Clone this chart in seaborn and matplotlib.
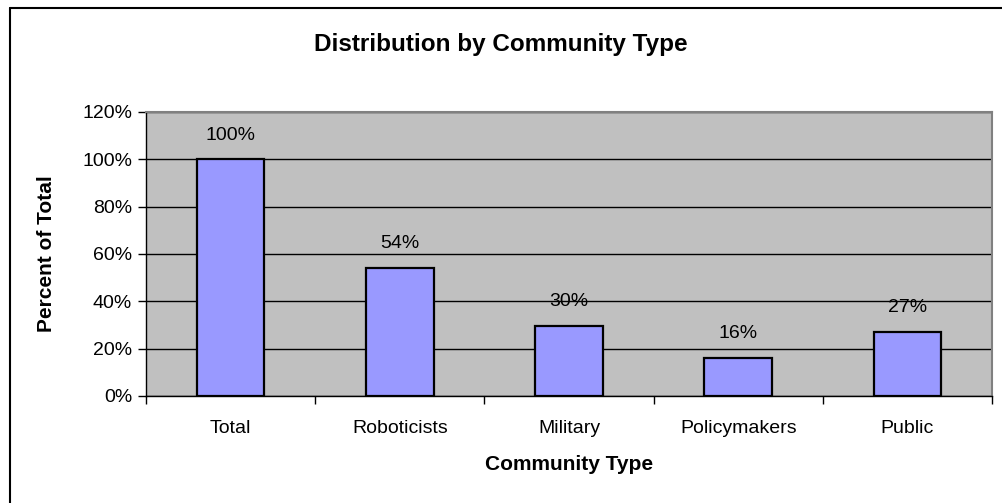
import matplotlib
matplotlib.use("Agg")
import matplotlib.pyplot as plt
import seaborn as sns
from matplotlib.ticker import PercentFormatter, MultipleLocator, FixedLocator
from matplotlib.lines import Line2D

categories = ["Total", "Roboticists", "Military", "Policymakers", "Public"]
shares = [1.00, 0.54, 0.295, 0.16, 0.27]
labels = ["100%", "54%", "30%", "16%", "27%"]

sns.set_style("white")
plt.rcParams['font.family'] = ['Liberation Sans', 'DejaVu Sans']
plt.rcParams['text.color'] = 'black'
plt.rcParams['axes.labelcolor'] = 'black'
plt.rcParams['xtick.color'] = 'black'
plt.rcParams['ytick.color'] = 'black'

fig = plt.figure(figsize=(10.02, 5.03), dpi=100)
ax = fig.add_axes([146 / 1002, 1 - 396 / 503, 846 / 1002, 284 / 503])
ax.set_facecolor("#C0C0C0")

sns.barplot(x=categories, y=shares, color="#9999FF", saturation=1,
            edgecolor="black", linewidth=1.6, width=0.4, ax=ax, zorder=3)

ax.set_ylim(0, 1.2)
ax.set_xlim(-0.5, len(categories) - 0.5)
ax.yaxis.set_major_locator(MultipleLocator(0.2))
ax.yaxis.set_major_formatter(PercentFormatter(1.0, decimals=0))
ax.grid(axis="y", color="black", linewidth=1, zorder=0)
ax.set_axisbelow(True)

# x tick marks sit between categories
ax.xaxis.set_minor_locator(FixedLocator([i - 0.5 for i in range(len(categories) + 1)]))
ax.tick_params(axis="x", which="major", length=0, pad=17, labelsize=14)
ax.tick_params(axis="x", which="minor", length=6, width=1, color="black", direction="out", bottom=True)
ax.tick_params(axis="y", length=6, width=1, color="black", direction="out", left=True, labelsize=14, pad=4)

for side in ["top", "right"]:
    ax.spines[side].set_color("#808080")
    ax.spines[side].set_linewidth(1.5)
for side in ["left", "bottom"]:
    ax.spines[side].set_color("black")
    ax.spines[side].set_linewidth(1)

for i, (v, t) in enumerate(zip(shares, labels)):
    ax.annotate(t, (i, v), xytext=(0, 17.5), textcoords="offset points",
                ha="center", va="center", fontsize=14, zorder=4)

ax.set_xlabel("Community Type", fontsize=15, fontweight="bold")
ax.set_ylabel("Percent of Total", fontsize=15, fontweight="bold")
ax.xaxis.set_label_coords(0.5, -(455 - 396) / 284)
ax.yaxis.set_label_coords(-(146 - 56) / 846, 0.5)

fig.text(0.5, 1 - 45 / 503, "Distribution by Community Type",
         ha="center", va="center", fontsize=17.5, fontweight="bold")

# chart frame (only left and top edges fall inside the image)
fig.add_artist(Line2D([9.5 / 1002, 9.5 / 1002], [0, 1 - 7.5 / 503], color="black", linewidth=1.5))
fig.add_artist(Line2D([9.5 / 1002, 1], [1 - 7.5 / 503, 1 - 7.5 / 503], color="black", linewidth=1.5))

fig.savefig("out.png", dpi=100)
